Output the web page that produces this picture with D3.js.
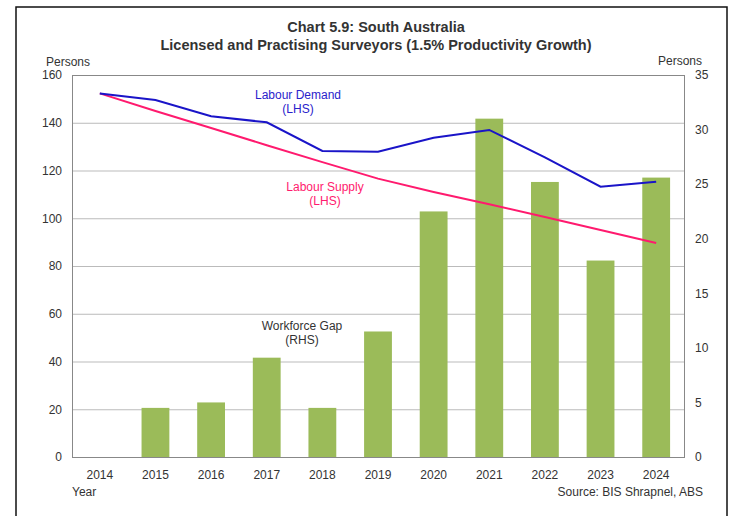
<!DOCTYPE html>
<html>
<head>
<meta charset="utf-8">
<script src="https://cdn.jsdelivr.net/npm/d3@7"></script>
<style>
  body { margin: 0; background: #fff; }
  svg text { font-family: "Liberation Sans", Arial, sans-serif; fill: #333; }
</style>
</head>
<body>
<div id="chart"></div>
<script>
// values
const years = ["2014","2015","2016","2017","2018","2019","2020","2021","2022","2023","2024"];
const demand = [152.3, 149.5, 142.7, 140.2, 128.2, 127.9, 133.7, 137.0, 125.5, 113.2, 115.3];
const supply = [152.3, 144.9, 137.8, 130.6, 123.5, 116.6, 111.0, 105.9, 100.5, 95.1, 89.6];
const gap = [0, 4.5, 5.0, 9.1, 4.5, 11.5, 22.5, 31.0, 25.2, 18.0, 25.6];
const leftTicks = [0, 20, 40, 60, 80, 100, 120, 140, 160];
const rightTicks = [0, 5, 10, 15, 20, 25, 30, 35];

const W = 730, H = 516;
const pLeft = 72, pRight = 684, pTop = 75, pBottom = 457;

const svg = d3.select("#chart").append("svg")
  .attr("width", W).attr("height", H);

// outer frame (no bottom edge visible)
svg.append("path")
  .attr("d", `M16,${H} L16,7 L727,7 L727,${H}`)
  .attr("fill", "none").attr("stroke", "#111").attr("stroke-width", 1.5);

const x = d3.scaleBand().domain(years).range([pLeft, pRight]).paddingInner(0.5).paddingOuter(0.25);
const yL = d3.scaleLinear().domain([0, 160]).range([pBottom, pTop]);
const yR = d3.scaleLinear().domain([0, 35]).range([pBottom, pTop]);

// grid lines
svg.append("g")
  .selectAll("line").data(leftTicks).enter().append("line")
  .attr("x1", pLeft).attr("x2", pRight)
  .attr("y1", d => yL(d) + 0.5).attr("y2", d => yL(d) + 0.5)
  .attr("stroke", d => d == 0 ? "#888" : "#bbb").attr("stroke-width", 1);

// bars
svg.append("g")
  .selectAll("rect").data(gap).enter().append("rect")
  .attr("x", (d, i) => x(years[i]))
  .attr("width", x.bandwidth())
  .attr("y", d => yR(d))
  .attr("height", d => pBottom - yR(d))
  .attr("fill", "#9bbb59");

// lines
const line = d3.line().x((d, i) => x(years[i]) + x.bandwidth() / 2).y(d => yL(d));
svg.append("path").datum(supply).attr("d", line)
  .attr("fill", "none").attr("stroke", "#ff1a6e").attr("stroke-width", 2);
svg.append("path").datum(demand).attr("d", line)
  .attr("fill", "none").attr("stroke", "#1a14c8").attr("stroke-width", 2);

// axes
const axL = svg.append("g").attr("transform", `translate(${pLeft},0)`)
  .call(d3.axisLeft(yL).tickValues(leftTicks).tickSize(0).tickPadding(10));
const axR = svg.append("g").attr("transform", `translate(${pRight},0)`)
  .call(d3.axisRight(yR).tickValues(rightTicks).tickSize(0).tickPadding(11));
const axB = svg.append("g").attr("transform", `translate(0,${pBottom})`)
  .call(d3.axisBottom(x).tickSize(0).tickPadding(13));
[axL, axR, axB].forEach(g => {
  g.select(".domain").remove();
  g.selectAll("text").attr("font-size", 12).attr("fill", "#333")
    .attr("font-family", "Liberation Sans, Arial, sans-serif");
});

// plot frame
svg.append("rect").attr("x", pLeft + 0.5).attr("y", pTop + 0.5)
  .attr("width", pRight - pLeft).attr("height", pBottom - pTop)
  .attr("fill", "none").attr("stroke", "#888").attr("stroke-width", 1);

// titles
svg.append("text").attr("x", 376).attr("y", 32).attr("text-anchor", "middle")
  .attr("font-size", 14.5).attr("font-weight", "bold").text("Chart 5.9: South Australia");
svg.append("text").attr("x", 376).attr("y", 50).attr("text-anchor", "middle")
  .attr("font-size", 14.5).attr("font-weight", "bold")
  .text("Licensed and Practising Surveyors (1.5% Productivity Growth)");

svg.append("text").attr("x", 46).attr("y", 66).attr("font-size", 12).text("Persons");
svg.append("text").attr("x", 702).attr("y", 65).attr("text-anchor", "end")
  .attr("font-size", 12).text("Persons");
svg.append("text").attr("x", 72).attr("y", 496).attr("font-size", 12).text("Year");
svg.append("text").attr("x", 703).attr("y", 496).attr("text-anchor", "end")
  .attr("font-size", 12).text("Source: BIS Shrapnel, ABS");

// series labels
function label(lines, cx, y0, color) {
  lines.forEach((t, i) => {
    svg.append("text").attr("x", cx).attr("y", y0 + i * 14)
      .attr("text-anchor", "middle").attr("font-size", 12)
      .style("fill", color).text(t);
  });
}
label(["Labour Demand", "(LHS)"], 298, 99, "#2a22cc");
label(["Labour Supply", "(LHS)"], 325, 191, "#ff1a6e");
label(["Workforce Gap", "(RHS)"], 302, 330, "#333");
</script>
</body>
</html>
